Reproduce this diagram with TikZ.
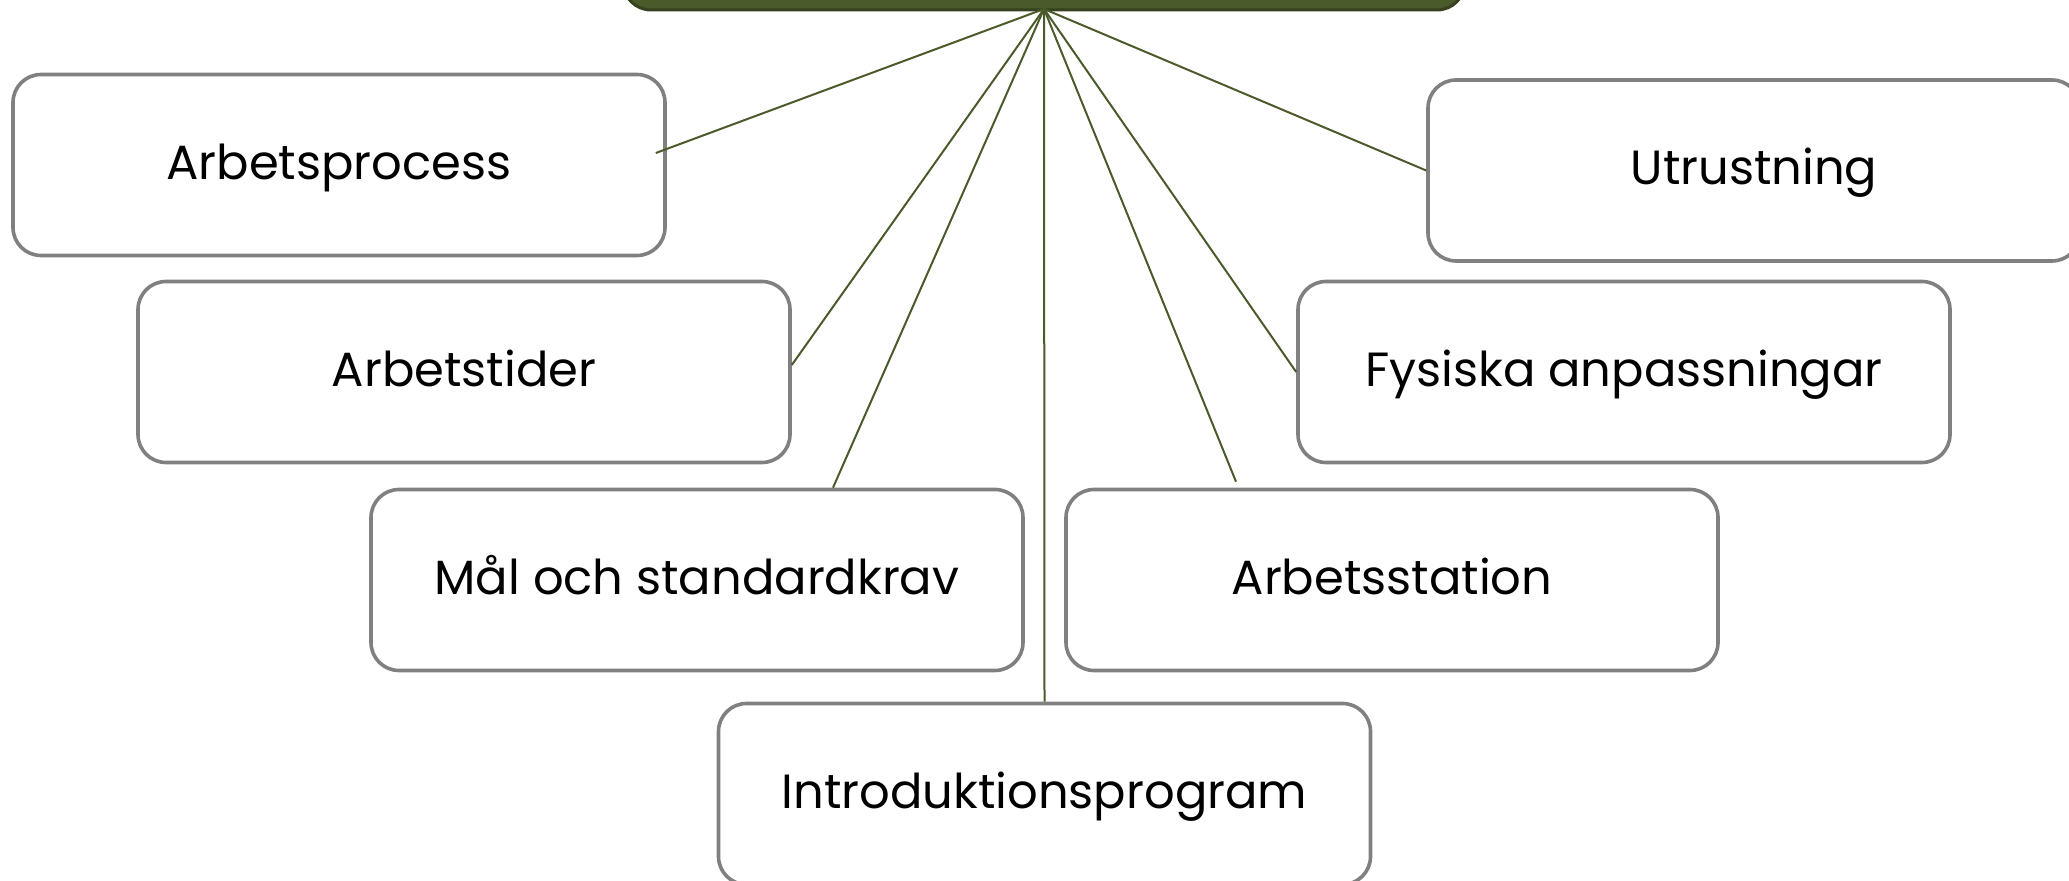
\documentclass[tikz,border=0pt]{standalone}
\usepackage{fontspec}
\setmainfont{Poppins}
\usetikzlibrary{calc}
\definecolor{olive}{HTML}{4A5A2B}
\definecolor{olivedark}{HTML}{36421E}
\definecolor{boxgray}{HTML}{808080}
\tikzset{
  topic/.style={draw=boxgray, line width=1.8pt, rounded corners=14pt, fill=white,
    minimum width=326pt, minimum height=90.5pt, inner sep=0pt,
    text height=20pt, text depth=5.8pt, font=\fontsize{24}{28}\selectfont},
  link/.style={draw=olive, line width=1pt}
}
\begin{document}
\begin{tikzpicture}[x=0.5pt,y=-0.5pt]
\useasboundingbox (0,0) rectangle (2069,881);
\clip (0,0) rectangle (2069,881);
% top (central) box, mostly off the page
\node[draw=olivedark, line width=1.5pt, fill=olive, rounded corners=14pt,
  minimum width=421pt, minimum height=60pt, inner sep=0pt] (center) at (1044,-50) {};
\coordinate (hub) at (1044,9);

\node[topic] (n1) at (339,165) {Arbetsprocess};
\node[topic] (n2) at (464,372) {Arbetstider};
\node[topic] (n3) at (697,580) {Mål och standardkrav};
\node[topic] (n4) at (1044.5,794) {Introduktionsprogram};
\node[topic] (n5) at (1392,580) {Arbetsstation};
\node[topic] (n6) at (1624,372) {Fysiska anpassningar};
\node[topic] (n7) at (1754,170.5) {Utrustning};

\draw[link] (hub) -- ($(n1.east)+(-11,-12)$);
\draw[link] (hub) -- ($(n2.east)+(0,-7)$);
\draw[link] (hub) -- ($(n3.north)+(136,0)$);
\draw[link] (hub) -- (n4.north);
\draw[link] (hub) -- ($(n5.north)+(-156,-6)$);
\draw[link] (hub) -- (n6.west);
\draw[link] (hub) -- (n7.west);
\end{tikzpicture}
\end{document}
